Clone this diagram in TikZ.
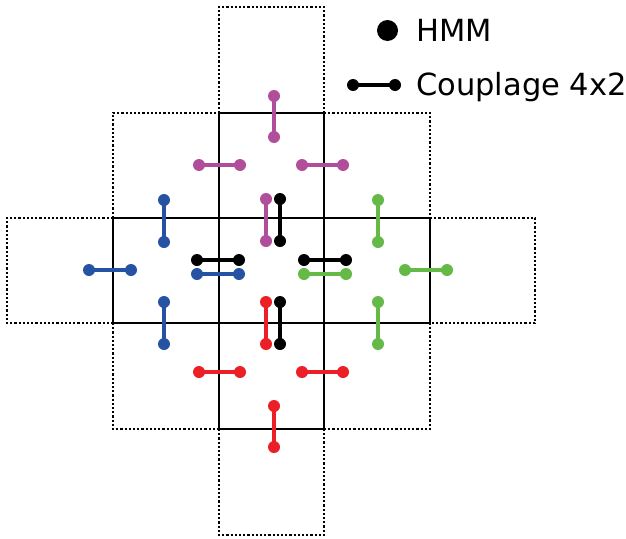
\documentclass[tikz,border=0pt]{standalone}
\usepackage{fontspec}
\setmainfont{DejaVu Sans}
\definecolor{cpurple}{HTML}{B04E9C}
\definecolor{cblue}{HTML}{2552A3}
\definecolor{cgreen}{HTML}{64B947}
\definecolor{cred}{HTML}{EC1E26}
\definecolor{cblack}{HTML}{000000}
\newcommand\dumbbell[6]{%
  \node[dot,fill=#2] (#1a) at (#3,#4) {};
  \node[dot,fill=#2] (#1b) at (#5,#6) {};
  \draw[link,draw=#2] (#1a.center) -- (#1b.center);}
\begin{document}
\begin{tikzpicture}[x=1pt,y=-1pt,
  gridsolid/.style={line width=2.4pt,draw=black},
  griddot/.style={line width=2.4pt,draw=black,dash pattern=on 2.2pt off 2pt},
  dot/.style={circle,inner sep=0pt,minimum size=12pt,draw=none},
  bigdot/.style={circle,inner sep=0pt,minimum size=21pt,fill=black,draw=none},
  link/.style={line width=4.6pt},
  legend/.style={font=\fontsize{30.5}{36}\selectfont,inner sep=0pt,anchor=base west}]
\useasboundingbox (0,0) rectangle (626,538);
% dotted parts
\draw[griddot] (219,113) -- (219,7) -- (324,7) -- (324,113);
\draw[griddot] (113,218) -- (7,218) -- (7,323) -- (113,323);
\draw[griddot] (430,218) -- (535,218) -- (535,323) -- (430,323);
\draw[griddot] (219,429) -- (219,535) -- (324,535) -- (324,429);
\draw[griddot] (113,218) -- (113,113) -- (219,113);
\draw[griddot] (324,113) -- (430,113) -- (430,218);
\draw[griddot] (113,323) -- (113,429) -- (219,429);
\draw[griddot] (324,429) -- (430,429) -- (430,323);
% solid cross
\draw[gridsolid] (113,218) rectangle (430,323);
\draw[gridsolid] (219,113) rectangle (324,429);
% purple
\dumbbell{p1}{cpurple}{274}{96}{274}{137}
\dumbbell{p2}{cpurple}{199}{165}{240}{165}
\dumbbell{p3}{cpurple}{302}{165}{343}{165}
\dumbbell{p4}{cpurple}{266}{199}{266}{241}
% black
\dumbbell{k1}{cblack}{280}{199}{280}{241}
\dumbbell{k2}{cblack}{197}{260}{239}{260}
\dumbbell{k3}{cblack}{304}{260}{346}{260}
\dumbbell{k4}{cblack}{280}{302}{280}{344}
% blue
\dumbbell{b1}{cblue}{164}{200}{164}{242}
\dumbbell{b2}{cblue}{89}{270}{131}{270}
\dumbbell{b3}{cblue}{197}{274}{239}{274}
\dumbbell{b4}{cblue}{164}{302}{164}{344}
% green
\dumbbell{g1}{cgreen}{378}{200}{378}{242}
\dumbbell{g2}{cgreen}{304}{274}{346}{274}
\dumbbell{g3}{cgreen}{405}{270}{447}{270}
\dumbbell{g4}{cgreen}{378}{302}{378}{344}
% red
\dumbbell{r1}{cred}{266}{302}{266}{344}
\dumbbell{r2}{cred}{199}{372}{240}{372}
\dumbbell{r3}{cred}{302}{372}{343}{372}
\dumbbell{r4}{cred}{274}{406}{274}{447}
% legend
\node[bigdot] (lhmm) at (387.5,30.5) {};
\node[legend] (thmm) at (416,41) {HMM};
\dumbbell{lc}{cblack}{353}{85}{395}{85}
\node[legend] (tcpl) at (416,95) {Couplage 4x2};
\end{tikzpicture}
\end{document}
